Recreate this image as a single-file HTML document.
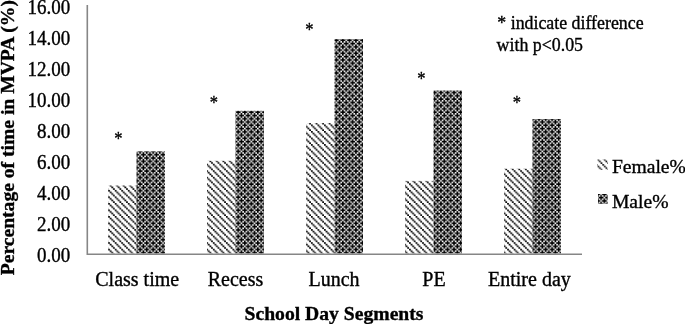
<!DOCTYPE html>
<html><head><meta charset="utf-8"><style>
html,body{margin:0;padding:0;background:#fff;width:685px;height:324px;overflow:hidden}
svg{display:block;will-change:transform}
text{font-family:"Liberation Serif",serif;fill:#000;stroke:#000;stroke-width:0.35px}
.t{font-size:19px}
.x{font-size:20px}
.l{font-size:19.6px}
.a{font-size:17.85px}
.b{font-size:19.65px;font-weight:bold}
.yb{font-size:19.6px;font-weight:bold}
</style></head><body>
<svg width="685" height="324" viewBox="0 0 685 324">
<defs>
<pattern id="pf" patternUnits="userSpaceOnUse" width="4" height="4" patternTransform="translate(3.555,0.215) scale(1.635)">
<rect width="4" height="4" fill="#fff"/>
<path d="M-1.06,-1.06h1.12v1.12h-1.12zM-0.06,-0.06h1.12v1.12h-1.12zM0.94,0.94h1.12v1.12h-1.12zM1.94,1.94h1.12v1.12h-1.12zM2.94,2.94h1.12v1.12h-1.12zM3.94,3.94h1.12v1.12h-1.12z" fill="#000"/>
</pattern>
<pattern id="pm" patternUnits="userSpaceOnUse" width="4" height="4" patternTransform="translate(1.97,1.85) scale(1.635)">
<rect width="4" height="4" fill="#000"/>
<path d="M1,0h1v1h-1zM3,0h1v1h-1zM0,1h1v1h-1zM1,2h1v1h-1zM3,2h1v1h-1zM2,3h1v1h-1z" fill="#fff"/>
</pattern>
<pattern id="lf" patternUnits="userSpaceOnUse" width="4" height="4" patternTransform="translate(0.69,0.5) scale(1.635)">
<rect width="4" height="4" fill="#fff"/>
<path d="M0,0h1v1h-1zM1,1h1v1h-1zM2,2h1v1h-1zM3,3h1v1h-1z" fill="#000"/>
</pattern>
<pattern id="lm" patternUnits="userSpaceOnUse" width="4" height="4" patternTransform="translate(1.82,5.49) scale(1.635)">
<rect width="4" height="4" fill="#000"/>
<path d="M1,0h1v1h-1zM3,0h1v1h-1zM0,1h1v1h-1zM1,2h1v1h-1zM3,2h1v1h-1zM2,3h1v1h-1z" fill="#fff"/>
</pattern>
</defs>
<!-- bars -->
<g>
<rect x="108" y="185.5" width="28.5" height="68" fill="url(#pf)"/>
<rect x="136.5" y="151.4" width="28.5" height="102.1" fill="url(#pm)"/>
<rect x="207" y="160.8" width="28.5" height="92.7" fill="url(#pf)"/>
<rect x="235.5" y="110.8" width="28.5" height="142.7" fill="url(#pm)"/>
<rect x="306" y="123" width="28.5" height="130.5" fill="url(#pf)"/>
<rect x="334.5" y="39.1" width="28.5" height="214.4" fill="url(#pm)"/>
<rect x="405" y="180.9" width="28.5" height="72.6" fill="url(#pf)"/>
<rect x="433.5" y="90.5" width="28.5" height="163" fill="url(#pm)"/>
<rect x="504" y="168.7" width="28.5" height="84.8" fill="url(#pf)"/>
<rect x="532.5" y="119" width="28.5" height="134.5" fill="url(#pm)"/>
</g>
<!-- axes -->
<path d="M87.3,5V254.3H582" fill="none" stroke="#868686" stroke-width="1.6"/>
<!-- y tick labels -->
<g class="t" text-anchor="end">
<text transform="translate(70.3,13.70) scale(1,1.1)">16.00</text>
<text transform="translate(70.3,44.76) scale(1,1.1)">14.00</text>
<text transform="translate(70.3,75.82) scale(1,1.1)">12.00</text>
<text transform="translate(70.3,106.88) scale(1,1.1)">10.00</text>
<text transform="translate(70.3,137.94) scale(1,1.1)">8.00</text>
<text transform="translate(70.3,169.00) scale(1,1.1)">6.00</text>
<text transform="translate(70.3,200.06) scale(1,1.1)">4.00</text>
<text transform="translate(70.3,231.12) scale(1,1.1)">2.00</text>
<text transform="translate(70.3,262.20) scale(1,1.1)">0.00</text>
</g>
<!-- x labels -->
<g class="x" text-anchor="middle">
<text x="137.2" y="285.9">Class time</text>
<text x="235.5" y="285.9">Recess</text>
<text x="334" y="285.9">Lunch</text>
<text x="434" y="285.9">PE</text>
<text x="529.4" y="285.9">Entire day</text>
</g>
<!-- asterisks -->
<g class="t" text-anchor="middle">
<text transform="translate(118.4,145) scale(0.87,1)">*</text>
<text transform="translate(213.9,109) scale(0.87,1)">*</text>
<text transform="translate(309.5,36) scale(0.87,1)">*</text>
<text transform="translate(421.4,85) scale(0.87,1)">*</text>
<text transform="translate(516.8,109) scale(0.87,1)">*</text>
</g>
<!-- titles -->
<text class="b" x="334" y="320" text-anchor="middle">School Day Segments</text>
<text class="yb" transform="translate(14,275.2) rotate(-90)" x="0" y="0">Percentage of time in MVPA (%)</text>
<!-- annotation -->
<text class="a" x="497.3" y="29">* indicate difference</text>
<text class="a" x="496.6" y="50.8">with p&lt;0.05</text>
<!-- legend -->
<rect x="597.3" y="159.4" width="10.4" height="10.4" fill="url(#lf)"/>
<rect x="598" y="194" width="9.6" height="9.8" fill="url(#lm)"/>
<text class="l" x="611.9" y="173.3">Female%</text>
<text class="l" x="611.9" y="207.9">Male%</text>
</svg>
</body></html>
